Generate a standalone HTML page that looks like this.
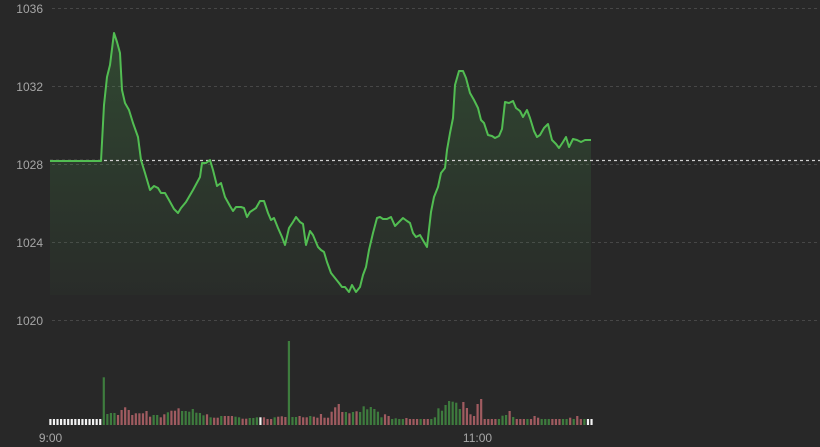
<!DOCTYPE html>
<html>
<head>
<meta charset="utf-8">
<style>
html,body{margin:0;padding:0;background:#282828;}
svg{display:block;}
text{font-family:"Liberation Sans",sans-serif;font-size:12px;fill:#a6a6a6;}
</style>
</head>
<body>
<svg width="820" height="447" viewBox="0 0 820 447" xmlns="http://www.w3.org/2000/svg">
<defs>
<linearGradient id="fg" x1="0" y1="33" x2="0" y2="295" gradientUnits="userSpaceOnUse">
<stop offset="0" stop-color="#4caf50" stop-opacity="0.24"/>
<stop offset="0.5" stop-color="#4caf50" stop-opacity="0.13"/>
<stop offset="1" stop-color="#4caf50" stop-opacity="0.03"/>
</linearGradient>
</defs>
<rect x="0" y="0" width="820" height="447" fill="#282828"/>
<!-- grid -->
<g stroke="#474747" stroke-width="1" stroke-dasharray="3,3">
<line x1="52" y1="8.5" x2="820" y2="8.5"/>
<line x1="52" y1="86.5" x2="820" y2="86.5"/>
<line x1="52" y1="164.5" x2="820" y2="164.5"/>
<line x1="52" y1="242.5" x2="820" y2="242.5"/>
<line x1="52" y1="320.5" x2="820" y2="320.5"/>
</g>
<text x="43" y="13" text-anchor="end">1036</text>
<text x="43" y="91" text-anchor="end">1032</text>
<text x="43" y="169" text-anchor="end">1028</text>
<text x="43" y="247" text-anchor="end">1024</text>
<text x="43" y="325" text-anchor="end">1020</text>
<!-- area -->
<polygon id="area" fill="url(#fg)" points=""/>
<!-- reference line -->
<line x1="50" y1="160.5" x2="820" y2="160.5" stroke="#cfcfcf" stroke-width="1.3" stroke-dasharray="3,3"/>
<polyline id="ln" fill="none" stroke="#52bd52" stroke-width="2" stroke-linejoin="round" points=""/>
<g id="vol"></g>
<text x="50.5" y="442" text-anchor="middle">9:00</text>
<text x="477.5" y="442" text-anchor="middle">11:00</text>
</svg>
<script>
var P=[[50,161],[101,161],[104,105],[107,77],[110,65],[114,33],[117,42],[120,53],[122,90],[125,103],[129,110],[133,123],[138,137],[141,160],[145,173],[150,190],[154,186],[158,188],[161,193],[165,193],[169,200],[174,209],[178,213],[181,208],[186,202],[193,190],[200,177],[202,163],[206,163],[210,160],[213,170],[217,186],[221,183],[225,197],[230,206],[233,211],[236,207],[241,207],[244,208],[247,217],[250,212],[256,208],[260,201],[264,201],[268,213],[271,220],[274,218],[278,228],[282,237],[285,245],[289,228],[293,222],[296,217],[300,222],[303,224],[306,245],[310,231],[313,235],[318,247],[321,250],[324,252],[327,262],[331,273],[335,278],[339,283],[342,287],[345,287],[349,292],[352,285],[356,292],[360,287],[363,275],[366,267],[369,250],[373,233],[377,218],[380,217],[383,219],[387,219],[391,217],[395,226],[399,222],[403,218],[407,221],[410,223],[413,233],[416,237],[420,235],[424,242],[427,247],[431,212],[434,197],[438,187],[441,173],[445,168],[447,150],[450,133],[453,118],[455,85],[459,71],[463,71],[466,78],[470,93],[474,100],[478,108],[481,120],[484,123],[488,135],[492,136],[495,138],[499,136],[502,129],[505,102],[509,103],[513,101],[516,108],[520,111],[523,117],[527,110],[530,118],[534,131],[537,137],[540,135],[544,128],[548,124],[552,140],[556,144],[559,148],[563,142],[566,137],[569,147],[573,139],[577,140],[581,142],[585,140],[591,140]];
var s=P.map(function(p){return p[0]+","+p[1];}).join(" ");
document.getElementById("ln").setAttribute("points",s);
document.getElementById("area").setAttribute("points",s+" 591,295 50,295");
var V=[];
for(var i=0;i<15;i++)V.push(["W",6]);
var a="G47.7 G11 G12 G12 R10 R15 R17.7 R15 R10 R11.7 R11.7 R11.7 R14 R8.3 G10 G10 R7.7 R10.7 G12.7 R14.3 R14.3 R16.7 G14 G14 G13.3 G16 G12.3 G12 G9.7 R10.7 G7.7 R7.3 R7.3 G9 R9 R9 R9 G8.3 G7.7 R6.3 R6.3 G7 G7 G7.7 W7.7 R7.7 R6 R6 G7.7 R8.3 R8.7 R8 G84 G8 G8 R9 "+
"R7.7 R7.7 G9 R8.3 R7.3 R11 R7.3 R7.3 R13.3 R17.7 R21 R13 G13 R11.7 G13 R13.7 G13 G18.7 G15.7 G18 G16 G13.3 G7.7 R10.7 R9 G6 G6.7 G6 G6 R7 R6 R6 R6 G6 R6 R6 G6 G7.7 G16.7 G14.3 G20 G24 G23.3 G22.3 G16 "+
"R23 R17 R10.7 R9 R21 R26 R6 R6 R6 R6 G6 G9.3 G10 R14 G8 R6 R6 R6 G6 R6 R9 R7.3 G6 G6 G6 R6 R6 R6 G6 G6 R7.3 G6 R9 R6 G6 W6 W6";
a.split(" ").forEach(function(t){V.push([t[0],parseFloat(t.slice(1))]);});
var col={W:"#f2f2f2",G:"#3e7c3e",R:"#a05b60"};
var h="";
for(var j=0;j<V.length;j++){
var x=49.3+j*3.56,hh=V[j][1];
h+='<rect x="'+x.toFixed(2)+'" y="'+(425-hh).toFixed(2)+'" width="2.2" height="'+hh+'" fill="'+col[V[j][0]]+'"/>';
}
document.getElementById("vol").innerHTML=h;
</script>
</body>
</html>
